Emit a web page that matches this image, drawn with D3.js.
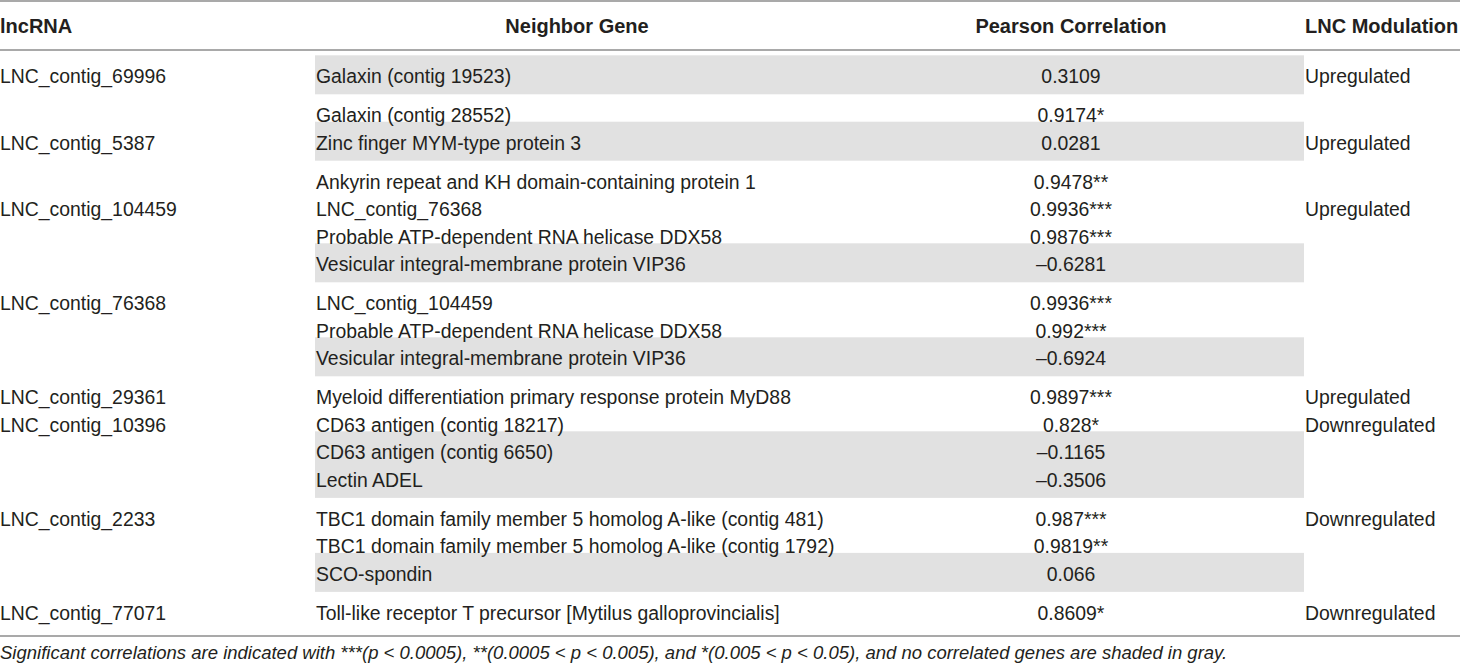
<!DOCTYPE html>
<html>
<head>
<meta charset="utf-8">
<script src="https://cdn.jsdelivr.net/npm/d3@7"></script>
<style>
  html, body { margin: 0; padding: 0; background: #fff; }
  svg { display: block; }
  text { font-family: "Liberation Sans", Arial, Helvetica, sans-serif; fill: #231f20; }
</style>
</head>
<body>
<svg id="chart" width="1460" height="667"></svg>
<script>
// ---- data ----
const headers = ["lncRNA", "Neighbor Gene", "Pearson Correlation", "LNC Modulation"];

const lncRNAs = [
  "LNC_contig_69996", "", "LNC_contig_5387", "", "LNC_contig_104459", "", "",
  "LNC_contig_76368", "", "", "LNC_contig_29361", "LNC_contig_10396", "", "",
  "LNC_contig_2233", "", "", "LNC_contig_77071"
];

const genes = [
  "Galaxin (contig 19523)",
  "Galaxin (contig 28552)",
  "Zinc finger MYM-type protein 3",
  "Ankyrin repeat and KH domain-containing protein 1",
  "LNC_contig_76368",
  "Probable ATP-dependent RNA helicase DDX58",
  "Vesicular integral-membrane protein VIP36",
  "LNC_contig_104459",
  "Probable ATP-dependent RNA helicase DDX58",
  "Vesicular integral-membrane protein VIP36",
  "Myeloid differentiation primary response protein MyD88",
  "CD63 antigen (contig 18217)",
  "CD63 antigen (contig 6650)",
  "Lectin ADEL",
  "TBC1 domain family member 5 homolog A-like (contig 481)",
  "TBC1 domain family member 5 homolog A-like (contig 1792)",
  "SCO-spondin",
  "Toll-like receptor T precursor [Mytilus galloprovincialis]"
];

const correlations = [
  0.3109, 0.9174, 0.0281, 0.9478, 0.9936, 0.9876, -0.6281,
  0.9936, 0.992, -0.6924, 0.9897, 0.828, -0.1165, -0.3506,
  0.987, 0.9819, 0.066, 0.8609
];

const significance = [
  "", "*", "", "**", "***", "***", "",
  "***", "***", "", "***", "*", "", "",
  "***", "**", "", "*"
];

const modulations = [
  "Upregulated", "", "Upregulated", "", "Upregulated", "", "",
  "", "", "", "Upregulated", "Downregulated", "", "",
  "Downregulated", "", "", "Downregulated"
];

const shaded = [
  true, false, true, false, false, false, true,
  false, false, true, false, false, true, true,
  false, false, true, false
];

// visual block each row belongs to (blocks are separated by extra space)
const blocks = [0, 1, 1, 2, 2, 2, 2, 3, 3, 3, 4, 4, 4, 4, 5, 5, 5, 6];

const footnote = "Significant correlations are indicated with ***(p < 0.0005), **(0.0005 < p < 0.005), and *(0.005 < p < 0.05), and no correlated genes are shaded in gray.";

// ---- layout ----
const W = 1460, H = 667;
const svg = d3.select("#chart");

const rowStep = 27.6, blockGap = 11.2;
const firstBaseline = 83.3;
const rows = genes.map((g, i) => ({
  i, lnc: lncRNAs[i], gene: g, corr: correlations[i], sig: significance[i],
  mod: modulations[i], shaded: shaded[i], block: blocks[i],
  pos: i + blocks[i] * (blockGap / rowStep)
}));

const y = d3.scaleLinear().domain([0, 1]).range([firstBaseline, firstBaseline + rowStep]);

// column anchors
const colX = d3.scaleOrdinal().domain(["lnc", "gene", "corr", "mod"]).range([0, 316, 1071, 1305]);
const shadeX = d3.scaleLinear().domain([0, 1]).range([315, 1304]);

// rules
const ruleColor = "#8c8c8c";
[1, 50, 636].forEach(yy => {
  svg.append("line").attr("x1", 0).attr("x2", W).attr("y1", yy).attr("y2", yy)
    .attr("stroke", ruleColor).attr("stroke-width", 1.6);
});

// shaded bands: merge consecutive shaded rows
const bands = [];
rows.forEach(r => {
  if (!r.shaded) return;
  const last = bands[bands.length - 1];
  if (last && last.end.i === r.i - 1 && last.end.block === r.block) last.end = r;
  else bands.push({ start: r, end: r });
});
svg.append("g").selectAll("rect").data(bands).join("rect")
  .attr("x", shadeX(0))
  .attr("width", shadeX(1) - shadeX(0))
  .attr("y", d => y(d.start.pos) - 28)
  .attr("height", d => y(d.end.pos) + 11 - (y(d.start.pos) - 28))
  .attr("fill", "#e1e1e1");

// headers
const hdr = svg.append("g").attr("font-weight", "bold").attr("font-size", 20);
hdr.append("text").attr("x", colX("lnc")).attr("y", 33).text(headers[0]);
hdr.append("text").attr("x", 577).attr("y", 33).attr("text-anchor", "middle").text(headers[1]);
hdr.append("text").attr("x", colX("corr")).attr("y", 33).attr("text-anchor", "middle").text(headers[2]);
hdr.append("text").attr("x", colX("mod")).attr("y", 33).text(headers[3]);

// body
const body = svg.append("g").attr("font-size", 19.4);
const fmt = v => String(v).replace("-", "\u2013");

body.selectAll("text.lnc").data(rows.filter(r => r.lnc)).join("text").attr("class", "lnc")
  .attr("x", colX("lnc")).attr("y", d => y(d.pos)).text(d => d.lnc);
body.selectAll("text.gene").data(rows).join("text").attr("class", "gene")
  .attr("x", colX("gene")).attr("y", d => y(d.pos)).text(d => d.gene);
body.selectAll("text.corr").data(rows).join("text").attr("class", "corr")
  .attr("x", colX("corr")).attr("y", d => y(d.pos)).attr("text-anchor", "middle")
  .text(d => fmt(d.corr) + d.sig);
body.selectAll("text.mod").data(rows.filter(r => r.mod)).join("text").attr("class", "mod")
  .attr("x", colX("mod")).attr("y", d => y(d.pos)).text(d => d.mod);

// footnote
svg.append("text").attr("x", 0).attr("y", 659).attr("font-size", 18.5)
  .attr("font-style", "italic").text(footnote);
</script>
</body>
</html>
